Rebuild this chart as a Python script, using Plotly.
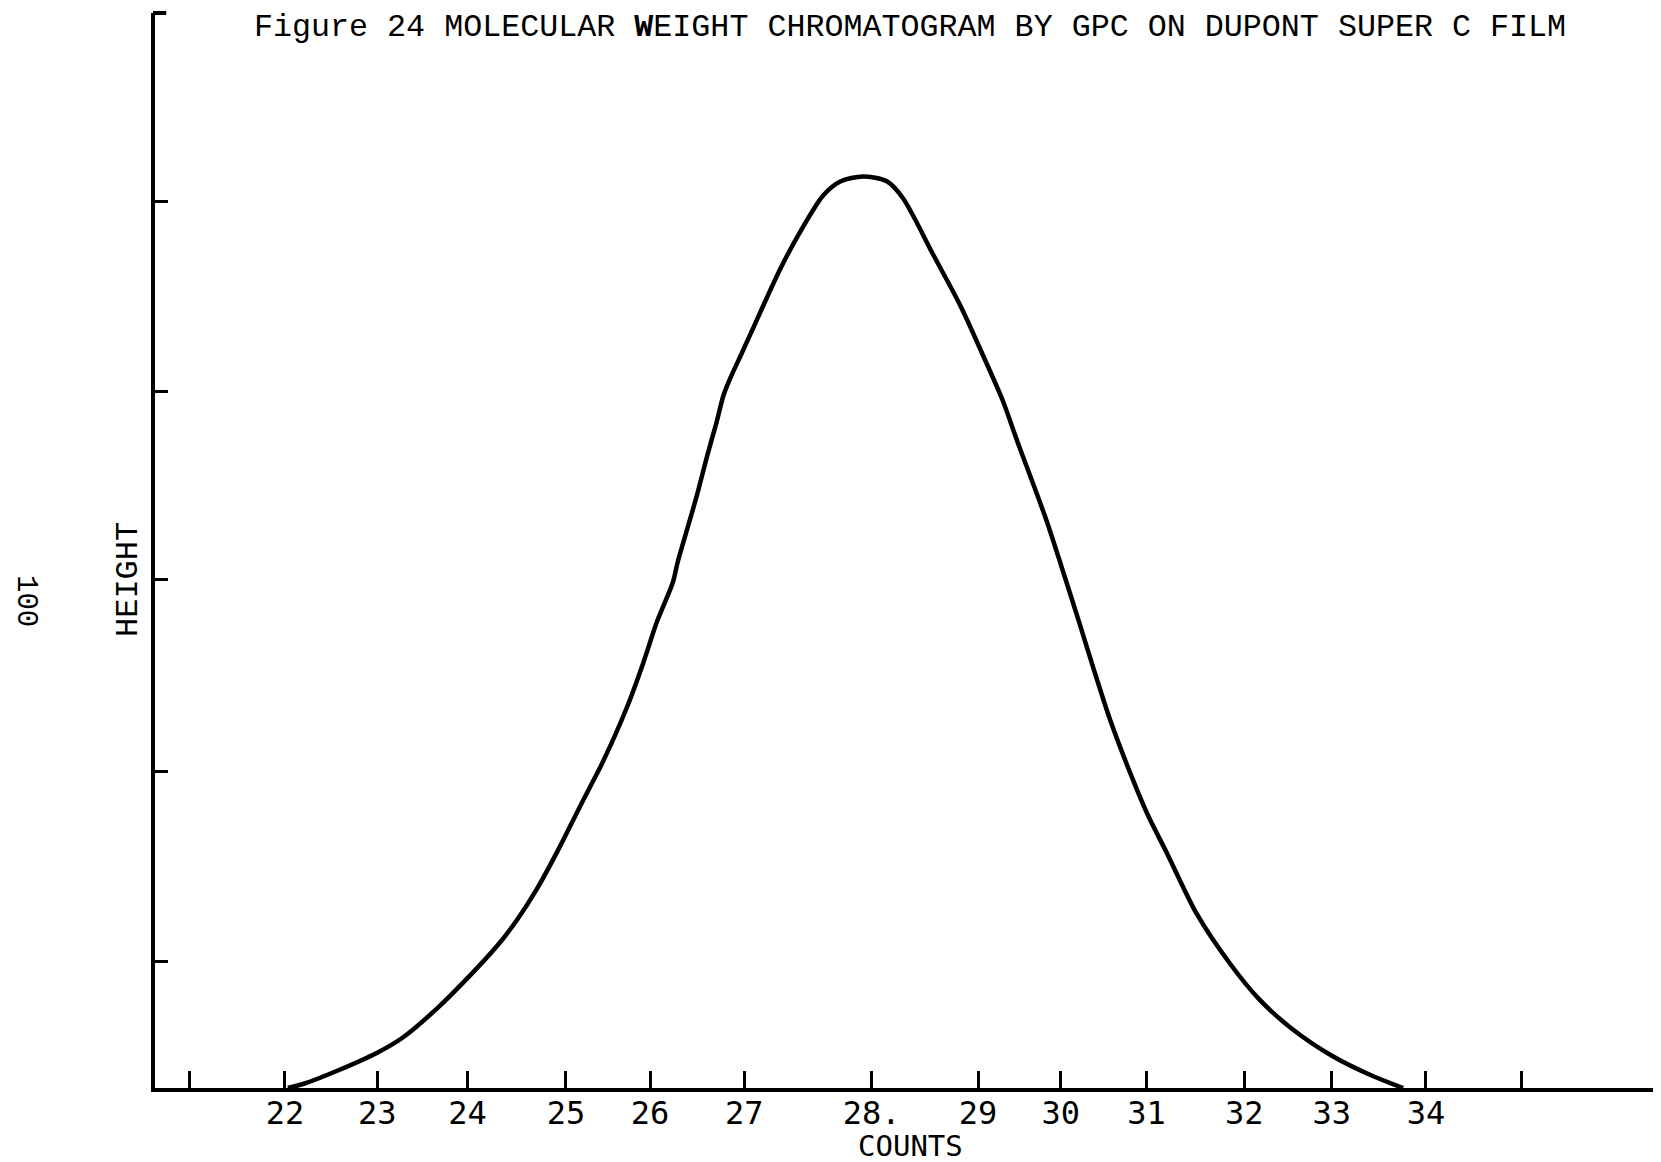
import plotly.graph_objects as go

# ---- data ----
counts = [22.03, 22.19, 22.55, 22.97, 23.24, 23.60, 23.95, 24.23, 24.44, 24.65,
          24.89, 25.07, 25.21, 25.34, 25.60, 25.77, 25.91, 26.08, 26.13, 26.23,
          26.33, 26.44, 26.54, 26.61, 26.68, 26.81, 26.92, 27.21, 27.42, 27.66,
          27.84, 28.08, 28.33, 28.50, 28.82, 29.10, 29.34, 29.55, 29.70, 30.01,
          30.18, 30.36, 30.50, 30.68, 30.92, 31.07, 31.28, 31.59, 31.94, 32.25,
          32.60, 33.02, 33.44, 33.76]
height = [0.000, 0.021, 0.091, 0.186, 0.266, 0.419, 0.594, 0.747, 0.884, 1.048,
          1.269, 1.449, 1.586, 1.713, 2.008, 2.240, 2.451, 2.662, 2.767, 2.941,
          3.115, 3.326, 3.505, 3.642, 3.732, 3.874, 3.995, 4.312, 4.507, 4.697,
          4.771, 4.798, 4.772, 4.683, 4.384, 4.121, 3.858, 3.617, 3.407, 2.986,
          2.724, 2.440, 2.214, 1.935, 1.620, 1.442, 1.232, 0.916, 0.654, 0.465,
          0.308, 0.167, 0.063, 0.000]

# hand-drawn axis: tick positions and their labels
x_tick_pos = [21.0, 22.0, 22.97, 23.92, 24.955, 25.84, 26.83, 28.17, 29.29,
              30.16, 31.06, 32.09, 33.01, 34.0, 35.0]
x_tick_text = ["", "22", "23", "24", "25", "26", "27", "28.", "29",
               "30", "31", "32", "33", "34", ""]
y_tick_pos = [0.668, 1.668, 2.679, 3.668, 4.668]

x_range = [20.633, 36.47]
y_range = [0.0, 5.658]

title_text = "Figure 24 MOLECULAR <b>W</b>EIGHT CHROMATOGRAM BY GPC ON DUPONT SUPER C FILM"

OFF = 8  # page margin of the figure inside the browser window
W, H = 1661 - 2 * OFF, 1162 - OFF
ML, MT = 155 - OFF, 13 - OFF
BASE = 1088 - OFF  # baseline, figure pixels
MR, MB = 0, H - BASE
PW, PH = W - ML - MR, H - MT - MB

# x axis range right edge follows the plot width (95.08 px per count)
x_range = [x_range[0], x_range[0] + PW / 95.08]


def px_x(p):
    return (p - OFF - ML) / PW


def px_y(p):
    return (BASE - (p - OFF)) / PH


fig = go.Figure()
fig.add_trace(go.Scatter(
    x=counts, y=height, mode="lines",
    line=dict(color="black", width=4.5, shape="spline", smoothing=0.8),
    showlegend=False, hoverinfo="skip", cliponaxis=False,
))

fig.update_layout(
    width=W, height=H,
    margin=dict(l=ML, r=MR, t=MT, b=MB, pad=0),
    paper_bgcolor="white", plot_bgcolor="white",
    showlegend=False,
    title=dict(
        text=title_text,
        x=px_x(254), xref="paper", xanchor="left",
        y=1 - (25 - OFF) / H, yref="container", yanchor="middle",
        font=dict(family="Liberation Mono", size=31.7, color="black"),
    ),
    xaxis=dict(
        range=x_range, showgrid=False, zeroline=False,
        showline=True, linecolor="black", linewidth=4,
        ticks="inside", ticklen=17, tickwidth=3, tickcolor="black",
        tickmode="array", tickvals=x_tick_pos, ticktext=x_tick_text,
        tickfont=dict(family="DejaVu Sans Mono", size=32, color="black"),
        ticklabelstandoff=-6,
    ),
    yaxis=dict(
        range=y_range, showgrid=False, zeroline=False,
        showline=True, linecolor="black", linewidth=4,
        ticks="inside", ticklen=13, tickwidth=3, tickcolor="black",
        tickmode="array", tickvals=y_tick_pos, showticklabels=False,
    ),
    shapes=[dict(type="line", xref="paper", yref="paper",
                 x0=-0.0013, x1=0.0075, y0=1, y1=1,
                 line=dict(color="black", width=4))],
    annotations=[
        dict(text="COUNTS", xref="paper", yref="paper",
             x=px_x(911), y=px_y(1146),
             xanchor="center", yanchor="middle", showarrow=False,
             font=dict(family="DejaVu Sans Mono", size=29, color="black")),
        dict(text="HEIGHT", xref="paper", yref="paper",
             x=px_x(128), y=px_y(580),
             xanchor="center", yanchor="middle", showarrow=False, textangle=-90,
             font=dict(family="Liberation Mono", size=32, color="black")),
        dict(text="100", xref="paper", yref="paper",
             x=px_x(26), y=px_y(601),
             xanchor="center", yanchor="middle", showarrow=False, textangle=90,
             font=dict(family="Liberation Mono", size=29, color="black")),
    ],
)

fig.write_html("out.html")
